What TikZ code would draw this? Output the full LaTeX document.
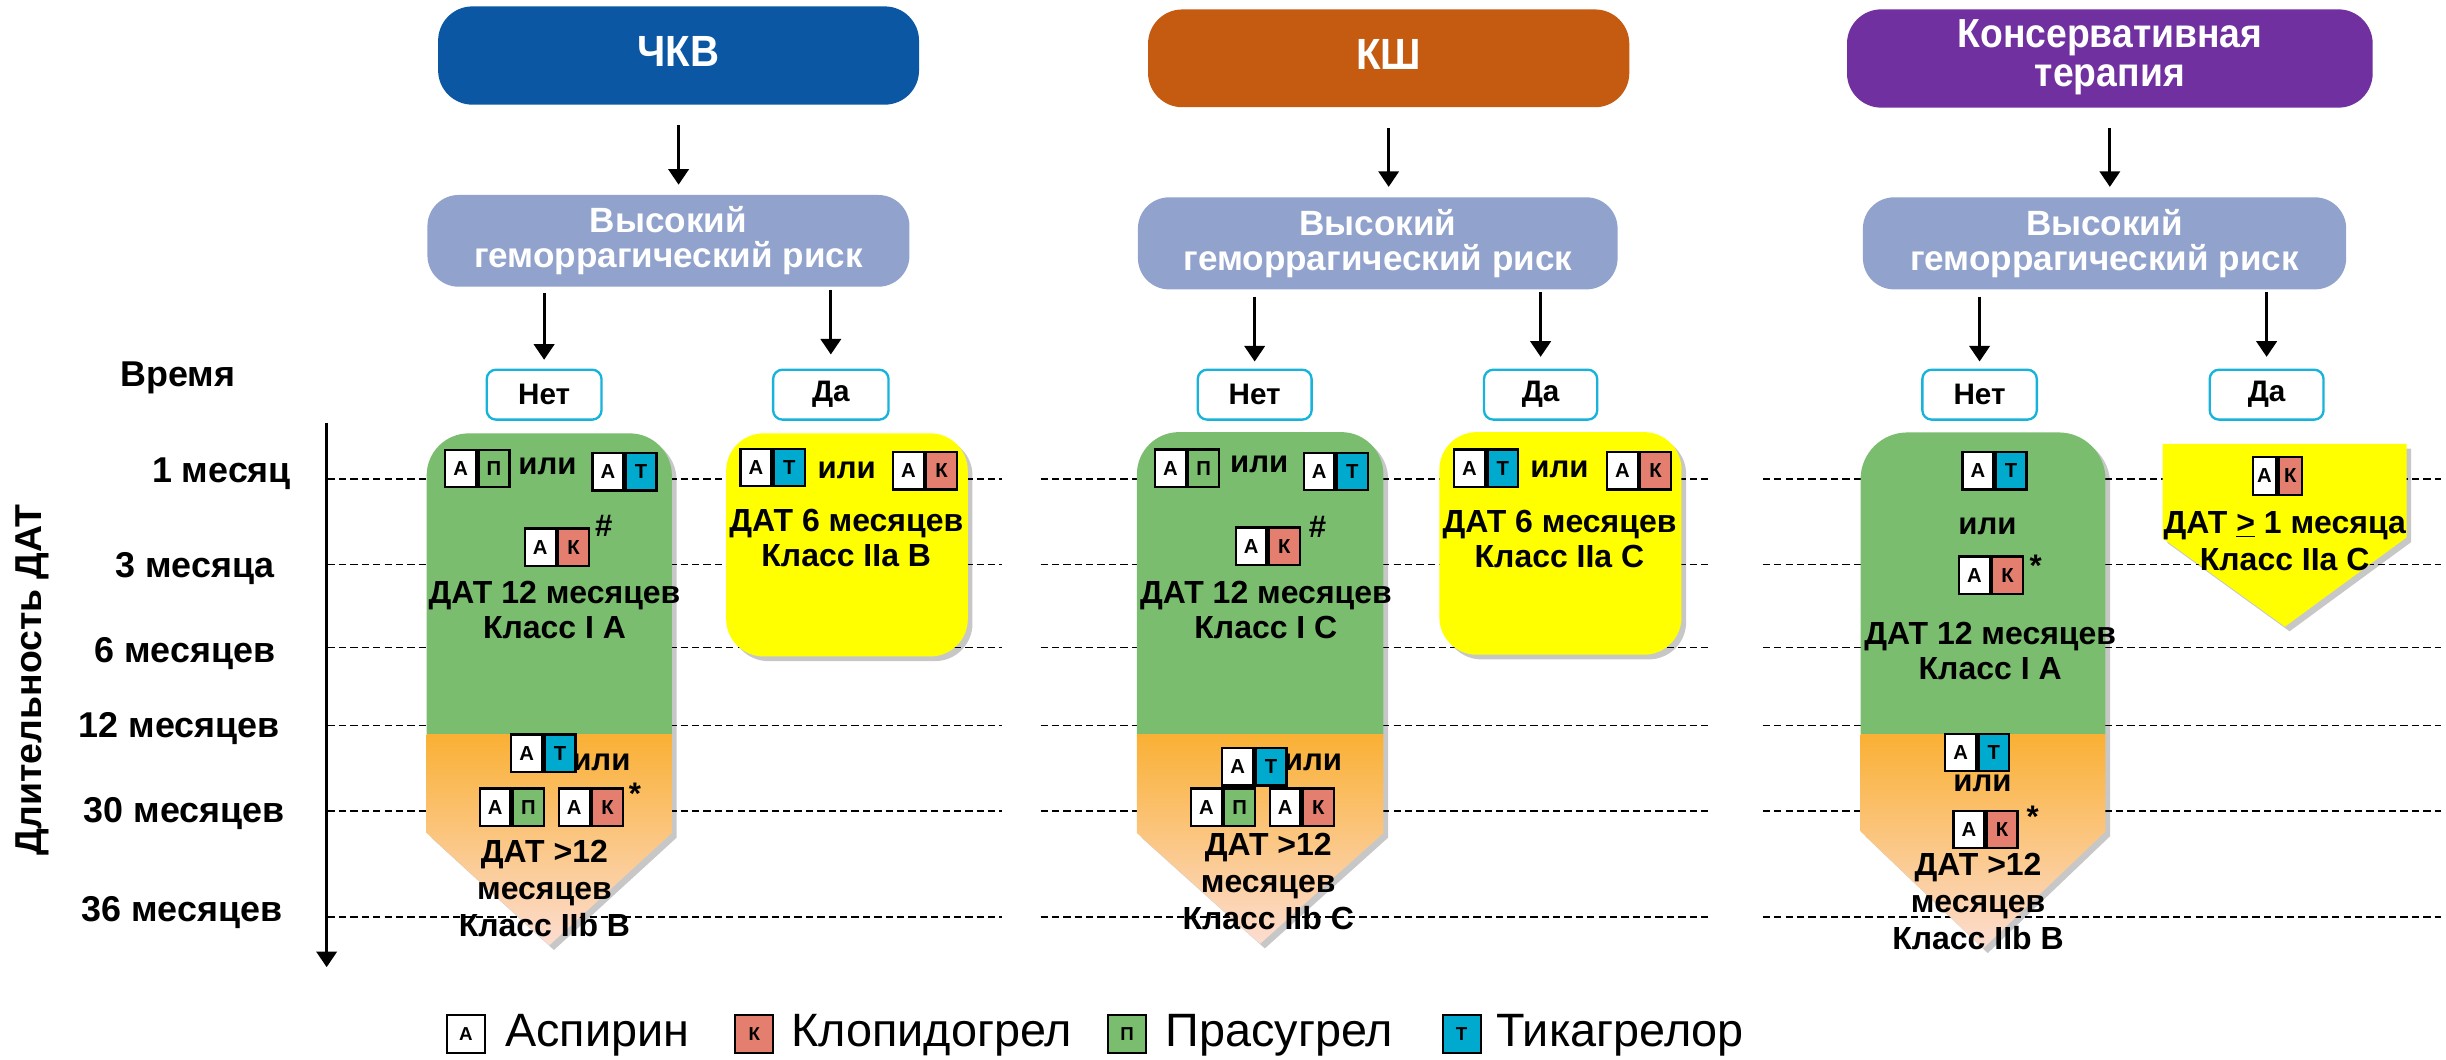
\documentclass[tikz,border=0pt]{standalone}
\usepackage{fontspec}
\setmainfont{Liberation Sans}
\newfontfamily\ttlfont{Liberation Sans}[FakeStretch=0.92]
\usetikzlibrary{arrows.meta}
\definecolor{cBlue}{HTML}{0B57A4}
\definecolor{cBrown}{HTML}{C55A11}
\definecolor{cPurple}{HTML}{7030A0}
\definecolor{cRisk}{HTML}{91A3CC}
\definecolor{cCyan}{HTML}{17B3DA}
\definecolor{cGreen}{HTML}{7BBD6F}
\definecolor{cOrTop}{HTML}{FAB034}
\definecolor{cOrBot}{HTML}{FCDDD2}
\definecolor{cYel}{HTML}{FFFF00}
\definecolor{cK}{HTML}{E47F6F}
\definecolor{cT}{HTML}{00AACF}
\definecolor{cP}{HTML}{7BBD6F}
\newcommand\fsz[2]{\fontsize{#1}{#2}\selectfont}
% drug pair: [opts]{name}{top-left}{colour}{letter}
\newcommand\dpair[5][]{%
  \node[dcell,#1,fill=white,anchor=north west] (#2a) at (#3) {А};
  \node[dcell,#1,fill=#4,anchor=north west] (#2b) at (#2a.north east) {#5};}
% green/orange column: x1 x2 ytop ymid yside ytip radius
\newcommand\netshape[7]{%
  \fill[black,opacity=.22,xshift=3pt,yshift=-3pt] (#1,#4) [rounded corners=#7pt] -- (#1,#3) -- (#2,#3) -- (#2,#4) [sharp corners] -- (#2,#5) -- ({(#1+#2)/2},#6) -- (#1,#5) -- cycle;
  \begin{scope}
    \clip (#1,#4) [rounded corners=#7pt] -- (#1,#3) -- (#2,#3) -- (#2,#4) [sharp corners] -- (#2,#5) -- ({(#1+#2)/2},#6) -- (#1,#5) -- cycle;
    \fill[cGreen] (#1-2,#3-2) rectangle (#2+2,#4);
    \shade[top color=cOrTop, bottom color=cOrBot] (#1-2,#4) rectangle (#2+2,#6+1);
  \end{scope}}
\begin{document}
\begin{tikzpicture}[x=1pt,y=-1pt,
  titlebox/.style={rounded corners=22pt, text=white, font=\ttlfont\bfseries\fsz{28}{24}, align=center, inner sep=0pt},
  riskbox/.style={fill=cRisk, rounded corners=20pt, text=white, font=\bfseries\fsz{22.5}{22.5}, align=center, inner sep=0pt},
  ynbox/.style={draw=cCyan, line width=1.5pt, fill=white, rounded corners=6pt, minimum height=32pt, font=\bfseries\fsz{19}{19}, inner sep=0pt},
  arr/.style={line width=1.9pt, -{Triangle[width=13pt,length=10pt]}},
  dashln/.style={dash pattern=on 4.7pt off 2.6pt, line width=1pt},
  dcell/.style={draw, line width=1.5pt, minimum width=19.8pt, minimum height=24pt, inner sep=0pt, font=\bfseries\fsz{13}{13}},
  txt/.style={font=\bfseries\fsz{20.5}{22.5}, align=center, inner sep=0pt},
  txtt/.style={font=\bfseries\fsz{20.5}{23.7}, align=center, inner sep=0pt},
  ili/.style={font=\bfseries\fsz{20}{20}, inner sep=0pt},
  mrk/.style={font=\bfseries\fsz{20}{20}, inner sep=0pt},
  mlab/.style={font=\bfseries\fsz{23}{23}, inner sep=0pt},
  lgbox/.style={draw, line width=1.2pt, minimum size=24.5pt, inner sep=0pt, font=\bfseries\fsz{12}{12}},
  lgtxt/.style={font=\fsz{30}{30}, inner sep=0pt, anchor=base west},
  yelshadow/.style={fill=black, opacity=.22, xshift=3pt, yshift=-3pt}
]
\useasboundingbox (0,0) rectangle (1568,679);

% time grid
\foreach \yy in {307,362,415,465,520,588}{
  \draw[dashln] (210,\yy) -- (642,\yy);
  \draw[dashln] (667,\yy) -- (1097,\yy);
  \draw[dashln] (1130,\yy) -- (1565,\yy);
}

% axis and labels
\coordinate (axtop) at (209.4,271);
\coordinate (axbot) at (209.4,620);
\draw[arr] (axtop) -- (axbot);
\node[mlab] (vremya) at (114,242) {Время};
\node[mlab] (m1) at (142,303.5) {1 месяц};
\node[mlab] (m3) at (125,364.5) {3 месяца};
\node[mlab] (m6) at (118.5,419) {6 месяцев};
\node[mlab] (m12) at (115,467) {12 месяцев};
\node[mlab] (m30) at (118,521.7) {30 месяцев};
\node[mlab] (m36) at (116.5,585) {36 месяцев};
\node[font=\bfseries\fsz{24}{24}, rotate=90, inner sep=0pt] (dlit) at (21,436) {Длительность ДАТ};

% ---------- titles ----------
\node[titlebox, fill=cBlue, minimum width=308.3pt, minimum height=63pt] (t1) at (435,35.6) {\raisebox{5pt}{ЧКВ}};
\node[titlebox, fill=cBrown, minimum width=308.5pt, minimum height=62.7pt] (t2) at (890.2,37.4) {\raisebox{5.4pt}{КШ}};
\node[titlebox, fill=cPurple, minimum width=337pt, minimum height=63pt, font=\ttlfont\bfseries\fsz{26}{27}] (t3) at (1352.5,37.5) {\raisebox{3.5pt}{\begin{tabular}{@{}c@{}}Консервативная\\[-1.5pt]терапия\end{tabular}}};

% ---------- risk boxes ----------
\node[riskbox, minimum width=309pt, minimum height=58.8pt] (r1) at (428.5,154.4) {Высокий\\геморрагический риск};
\node[riskbox, minimum width=307.5pt, minimum height=59pt] (r2) at (883.2,156) {Высокий\\геморрагический риск};
\node[riskbox, minimum width=309.8pt, minimum height=59pt] (r3) at (1349.1,156) {Высокий\\геморрагический риск};

\draw[arr, shorten <=12.7pt, shorten >=6.4pt] (t1.south) -- (t1.south |- r1.north);
\draw[arr, shorten <=13pt, shorten >=6.5pt] (t2.south) -- (t2.south |- r2.north);
\draw[arr, shorten <=13pt, shorten >=6.5pt] (t3.south) -- (t3.south |- r3.north);

% ---------- yes / no ----------
\node[ynbox, minimum width=73.6pt] (n1) at (348.8,253) {Нет};
\node[ynbox, minimum width=74pt] (d1) at (532.6,253) {Да};
\node[ynbox, minimum width=73pt] (n2) at (804.3,253) {Нет};
\node[ynbox, minimum width=72.6pt] (d2) at (987.6,253) {Да};
\node[ynbox, minimum width=73.4pt] (n3) at (1269,253) {Нет};
\node[ynbox, minimum width=73pt] (d3) at (1453,253) {Да};

\draw[arr, shorten <=4pt, shorten >=5.6pt] (n1.north |- r1.south) -- (n1.north);
\draw[arr, shorten <=1.7pt, shorten >=9pt] (d1.north |- r1.south) -- (d1.north);
\draw[arr, shorten <=4.5pt, shorten >=4.5pt] (n2.north |- r2.south) -- (n2.north);
\draw[arr, shorten <=1.5pt, shorten >=7.5pt] (d2.north |- r2.south) -- (d2.north);
\draw[arr, shorten <=4.5pt, shorten >=4.5pt] (n3.north |- r3.south) -- (n3.north);
\draw[arr, shorten <=1.5pt, shorten >=7.5pt] (d3.north |- r3.south) -- (d3.north);

% ---------- column 1 (PCI) ----------
\netshape{273.5}{430.7}{277.8}{470.7}{534}{606}{27}
\dpair{c1p}{284.7,287.6}{cP}{П}
\node[ili] (c1or) at (351,299) {или};
\dpair{c1t}{379,289.6}{cT}{Т}
\dpair{c1k}{335.7,338}{cK}{К}
\node[mrk] (c1h) at (387,337) {\#};
\node[txt] (c1x) at (355.5,391) {ДАТ 12 месяцев\\Класс I A};
\dpair{c1t2}{327,470}{cT}{Т}
\node[ili] (c1or2) at (385.5,489) {или};
\dpair{c1p2}{306.8,504.8}{cP}{П}
\dpair{c1k2}{357.5,504.8}{cK}{К}
\node[mrk] (c1s) at (407,509) {*};
\node[txtt] (c1y) at (349,569.5) {ДАТ >12\\месяцев\\Класс IIb B};

\fill[yelshadow, rounded corners=24pt] (465.5,277.8) rectangle (620.4,420.8);
\fill[cYel, rounded corners=24pt] (465.5,277.8) rectangle (620.4,420.8);
\dpair{c1yt}{474,287}{cT}{Т}
\node[ili] (c1yor) at (542.8,301.5) {или};
\dpair{c1yk}{571.7,289}{cK}{К}
\node[txt] (c1yx) at (542.5,345) {ДАТ 6 месяцев\\Класс IIa B};

% ---------- column 2 (CABG) ----------
\netshape{728.8}{886.8}{277}{470.7}{534}{605}{27}
\dpair{c2p}{739.7,287.5}{cP}{П}
\node[ili] (c2or) at (807.2,298) {или};
\dpair{c2t}{835,289.5}{cT}{Т}
\dpair{c2k}{791.4,337.4}{cK}{К}
\node[mrk] (c2h) at (844.6,338) {\#};
\node[txt] (c2x) at (811.5,391) {ДАТ 12 месяцев\\Класс I C};
\dpair{c2t2}{782.8,478.7}{cT}{Т}
\node[ili] (c2or2) at (841.7,489) {или};
\dpair{c2p2}{762.7,504.7}{cP}{П}
\dpair{c2k2}{813.2,504.7}{cK}{К}
\node[txtt] (c2y) at (813,565) {ДАТ >12\\месяцев\\Класс IIb C};

\fill[yelshadow, rounded corners=24pt] (922.7,277) rectangle (1077.9,419.7);
\fill[cYel, rounded corners=24pt] (922.7,277) rectangle (1077.9,419.7);
\dpair{c2yt}{931.4,287.5}{cT}{Т}
\node[ili] (c2yor) at (999.7,300.6) {или};
\dpair{c2yk}{1029.4,289}{cK}{К}
\node[txt] (c2yx) at (999.7,345.5) {ДАТ 6 месяцев\\Класс IIa C};

% ---------- column 3 (conservative) ----------
\netshape{1192.7}{1349.7}{277.2}{470.6}{533}{608}{30}
\dpair{c3t}{1257.3,289}{cT}{Т}
\node[ili] (c3or) at (1274,337.5) {или};
\dpair{c3k}{1255,356}{cK}{К}
\node[mrk] (c3s) at (1305,363) {*};
\node[txt] (c3x) at (1275.8,417.5) {ДАТ 12 месяцев\\Класс I A};
\dpair{c3t2}{1246.2,469.6}{cT}{Т}
\node[ili] (c3or2) at (1270.8,502) {или};
\dpair{c3k2}{1251.5,519}{cK}{К}
\node[mrk] (c3s2) at (1303,523.7) {*};
\node[txtt] (c3y) at (1268,578) {ДАТ >12\\месяцев\\Класс IIb B};

\fill[yelshadow] (1386.3,284.6) -- (1542.7,284.6) -- (1542.7,344.5) -- (1464.7,401.7) -- (1386.3,345) -- cycle;
\fill[cYel] (1386.3,284.6) -- (1542.7,284.6) -- (1542.7,344.5) -- (1464.7,401.7) -- (1386.3,345) -- cycle;
\dpair[minimum width=15pt, minimum height=24.6pt]{c3yk}{1443.4,292.1}{cK}{К}
\node[font=\bfseries\fsz{20.5}{23.5}, align=center, inner sep=0pt] (c3yx) at (1464.6,347) {ДАТ \underline{>} 1 месяца\\Класс IIa C};

% ---------- legend ----------
\node[lgbox, fill=white] (lgA) at (298.6,663) {А};
\node[lgtxt] (lgAt) at (323.7,671) {Аспирин};
\node[lgbox, fill=cK] (lgK) at (483.5,663) {К};
\node[lgtxt] (lgKt) at (507,671) {Клопидогрел};
\node[lgbox, fill=cP] (lgP) at (722.5,663) {П};
\node[lgtxt] (lgPt) at (747,671) {Прасугрел};
\node[lgbox, fill=cT] (lgT) at (937,663) {Т};
\node[lgtxt] (lgTt) at (959,671) {Тикагрелор};
\end{tikzpicture}
\end{document}
